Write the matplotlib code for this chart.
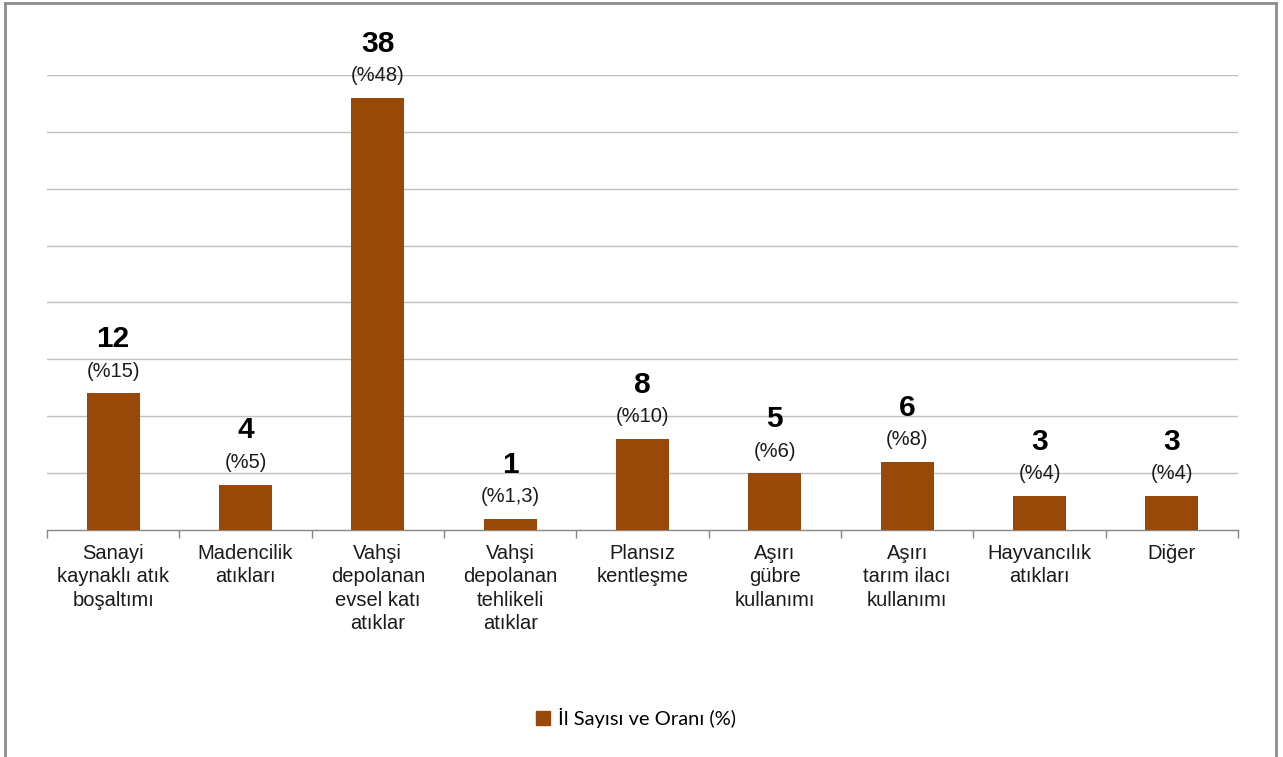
import matplotlib
matplotlib.use("Agg")
import matplotlib.pyplot as plt
from matplotlib.lines import Line2D
from matplotlib.patches import Patch

categories = ["Sanayi\nkaynaklı atık\nboşaltımı", "Madencilik\natıkları",
              "Vahşi\ndepolanan\nevsel katı\natıklar", "Vahşi\ndepolanan\ntehlikeli\natıklar",
              "Plansız\nkentleşme", "Aşırı\ngübre\nkullanımı", "Aşırı\ntarım ilacı\nkullanımı",
              "Hayvancılık\natıkları", "Diğer"]
values = [12, 4, 38, 1, 8, 5, 6, 3, 3]
percent_labels = ["(%15)", "(%5)", "(%48)", "(%1,3)", "(%10)", "(%6)", "(%8)", "(%4)", "(%4)"]
series_name = "İl Sayısı ve Oranı (%)"

BAR = "#984807"
plt.rcParams['font.family'] = ['Liberation Sans', 'DejaVu Sans']

fig = plt.figure(figsize=(12.83, 7.57), dpi=100)
ax = fig.add_axes([47/1283, 1-530/757, (1238-47)/1283, (530-75)/757])

x = list(range(len(values)))
ax.bar(x, values, width=0.4, color=BAR, zorder=3)
ax.set_xlim(-0.5, len(values)-0.5)
ax.set_ylim(0, 40)
ax.set_yticks([5*i for i in range(1, 9)])
ax.yaxis.grid(True, color="#c0c0c0", linewidth=1)
ax.tick_params(axis='y', length=0, labelleft=False)
for s in ['left', 'right', 'top']:
    ax.spines[s].set_visible(False)
ax.spines['bottom'].set_color('#868686')
ax.spines['bottom'].set_linewidth(1)

ax.set_xticks(x)
ax.set_xticklabels(categories, fontsize=14.5, linespacing=1.3, color='#1a1a1a')
ax.tick_params(axis='x', which='major', length=0, pad=10)
ax.set_xticks([i - 0.5 for i in range(len(values)+1)], minor=True)
ax.tick_params(axis='x', which='minor', length=6, color='#868686', width=1, direction='out')

for xi, v, p in zip(x, values, percent_labels):
    ax.annotate(p, (xi, v), xytext=(0, 22), textcoords='offset pixels',
                ha='center', va='center', fontsize=14.5, color='#1a1a1a', zorder=4)
    ax.annotate(str(v), (xi, v), xytext=(0, 54), textcoords='offset pixels',
                ha='center', va='center', fontsize=21.5, fontweight='bold', color='black', zorder=4)

handle = Patch(facecolor=BAR, edgecolor=BAR)
fig.legend([handle], [series_name], loc='center', bbox_to_anchor=(636/1283, 1-718/757),
           frameon=False, prop={'family': ['Lato', 'DejaVu Sans'], 'size': 14.5},
           handlelength=0.7, handleheight=0.7, handletextpad=0.4)

# chart-area frame (left, top, right)
fc = '#8c8c8c'
fig.add_artist(Line2D([5/1283, 5/1283], [0, 1-3/757], transform=fig.transFigure, color=fc, lw=2))
fig.add_artist(Line2D([5/1283, 1276/1283], [1-3/757, 1-3/757], transform=fig.transFigure, color=fc, lw=2))
fig.add_artist(Line2D([1276/1283, 1276/1283], [0, 1-3/757], transform=fig.transFigure, color=fc, lw=2))

fig.savefig("out.png", dpi=100, facecolor='white')
